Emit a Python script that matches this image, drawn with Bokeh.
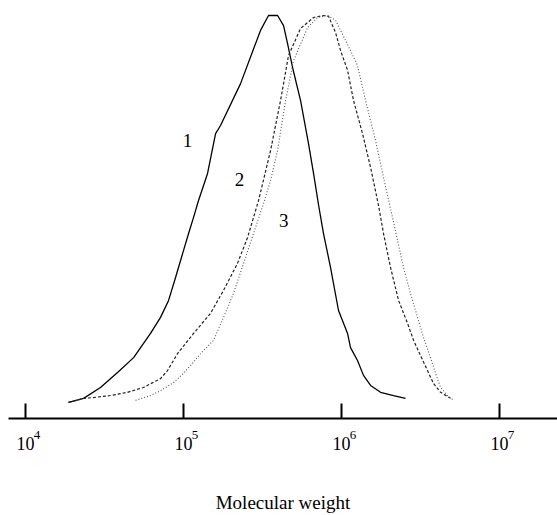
from bokeh.plotting import figure
from bokeh.models import Range1d, FixedTicker, Label, LogAxis
from bokeh.embed import file_html
from bokeh.resources import INLINE

# ---- data (molecular weight, normalised signal) ----
mw_1 = [18700, 23300, 29800, 38200, 48300, 61800, 71500, 80400, 89000, 98600,
        107600, 115700, 124400, 141900, 159500, 171400, 229500, 307000, 345000,
        394000, 429500, 455000, 489800, 550500, 618000, 665000, 714500, 769000,
        851500, 957000, 1092000, 1140000, 1262000, 1377000, 1527000, 1766000,
        2133000, 2541000]
w_1 = [4.0, 5.0, 7.7, 11.4, 15.1, 21.1, 25.1, 29.3, 35.0, 40.9,
       45.9, 49.9, 54.1, 60.8, 70.7, 72.7, 83.1, 96.3, 100.0,
       100.0, 97.5, 93.1, 87.1, 78.9, 68.2, 60.8, 53.1, 45.9,
       37.5, 26.8, 21.1, 17.6, 14.4, 10.7, 8.2, 6.5,
       5.7, 5.0]

mw_2 = [18700, 23300, 26900, 34500, 44200, 55800, 71500, 79200, 91600, 115700,
        148200, 179100, 219600, 254100, 298500, 355500, 411000, 462000, 550500,
        665000, 769000, 827000, 916000, 986000, 1092000, 1191000, 1358000,
        1527000, 1714000, 1844000, 2042000, 2296000, 2618000, 2858000, 3162000,
        3499000, 3819000, 4236000, 4898000]
w_2 = [4.0, 5.0, 5.2, 5.7, 6.5, 7.7, 9.9, 11.9, 16.1, 21.1,
       26.1, 31.8, 38.5, 44.9, 54.1, 66.5, 78.9, 90.1, 96.8,
       99.5, 100.0, 99.8, 95.8, 91.3, 86.4, 78.9, 70.7,
       62.3, 52.9, 45.9, 37.5, 29.3, 23.6, 19.4, 15.6,
       11.9, 8.7, 6.5, 5.0]

mw_3 = [49700, 61800, 71500, 86400, 100000, 128200, 154900, 179100, 207000,
        239900, 277300, 320700, 355500, 393600, 442400, 496800, 609500, 704700,
        815000, 916000, 986000, 1140000, 1262000, 1419000, 1641000, 1844000,
        2042000, 2262000, 2467000, 2733000, 3028000, 3304000, 3656000, 3936000,
        4236000, 4688000, 5117000]
w_3 = [4.5, 5.7, 6.9, 8.9, 11.2, 16.1, 19.4, 25.1, 31.0,
       38.5, 45.9, 53.3, 59.1, 66.5, 78.9, 88.8, 97.0, 99.5,
       100.0, 98.8, 96.3, 91.3, 87.6, 78.9, 69.0, 59.8,
       52.1, 44.2, 37.5, 31.0, 25.1, 20.1, 15.1, 11.2,
       7.7, 5.7, 4.5]

curve_names = ["1", "2", "3"]
curve_label_mw = [106000, 226000, 430000]
curve_label_w = [69.0, 59.3, 49.1]

tick_values = [1e4, 1e5, 1e6, 1e7]
tick_base = ["10", "10", "10", "10"]
tick_exponents = ["4", "5", "6", "7"]
x_title = "Molecular weight"

SERIF = "Liberation Serif"

X_LO, X_HI = 10 ** 3.892, 10 ** 7.367
PLOT_W = 557
FRAME_W = PLOT_W - 8
# exponent sits ~11.5 px to the right of its tick: express that as a log factor
px_per_decade = FRAME_W / 3.475
exp_shift = 10 ** (11.5 / px_per_decade)

p = figure(width=PLOT_W, height=515, x_axis_type="log",
           x_range=Range1d(X_LO, X_HI),
           y_range=Range1d(0, 101.24),
           y_axis_location=None, toolbar_location=None,
           output_backend="svg",
           min_border_left=8, min_border_right=0,
           min_border_top=10, min_border_bottom=97)
p.outline_line_color = None
p.xgrid.visible = False
p.ygrid.visible = False
p.background_fill_color = "white"
p.border_fill_color = "white"

# main axis: line, inward ticks and the "10" of each label
ax = p.xaxis[0]
ax.ticker = FixedTicker(ticks=tick_values, minor_ticks=[])
ax.axis_line_width = 2
ax.axis_line_color = "black"
ax.major_tick_in = 15
ax.major_tick_out = 0
ax.major_tick_line_width = 2
ax.major_tick_line_color = "black"
ax.minor_tick_line_color = None
ax.major_label_overrides = dict(zip(tick_values, tick_base))
ax.major_label_text_font = SERIF
ax.major_label_text_font_size = "18px"
ax.major_label_text_color = "black"
ax.major_label_standoff = 18

# second axis: superscript exponents and the axis title
exp_ticks = [v * exp_shift for v in tick_values]
ax2 = LogAxis(ticker=FixedTicker(ticks=exp_ticks, minor_ticks=[]),
              axis_line_color=None, major_tick_line_color=None,
              minor_tick_line_color=None,
              major_label_overrides=dict(zip(exp_ticks, tick_exponents)),
              major_label_text_font=SERIF,
              major_label_text_font_size="13px",
              major_label_text_color="black",
              major_label_standoff=-28,
              axis_label=x_title,
              axis_label_text_font=SERIF,
              axis_label_text_font_style="normal",
              axis_label_text_font_size="19px",
              axis_label_text_line_height=0.7,
              axis_label_text_color="black",
              axis_label_standoff=50)
p.add_layout(ax2, "below")

p.line(mw_1, w_1, line_color="black", line_width=1.3)
p.line(mw_2, w_2, line_color="#222222", line_width=1.2, line_dash="3 2")
p.line(mw_3, w_3, line_color="#555555", line_width=1.1, line_dash="1 2")

for name, xm, yw in zip(curve_names, curve_label_mw, curve_label_w):
    p.add_layout(Label(x=xm, y=yw, text=name, text_align="center",
                       text_baseline="middle", text_font=SERIF,
                       text_font_size="19px", text_color="black"))

open("out.html", "w").write(file_html(p, INLINE))
